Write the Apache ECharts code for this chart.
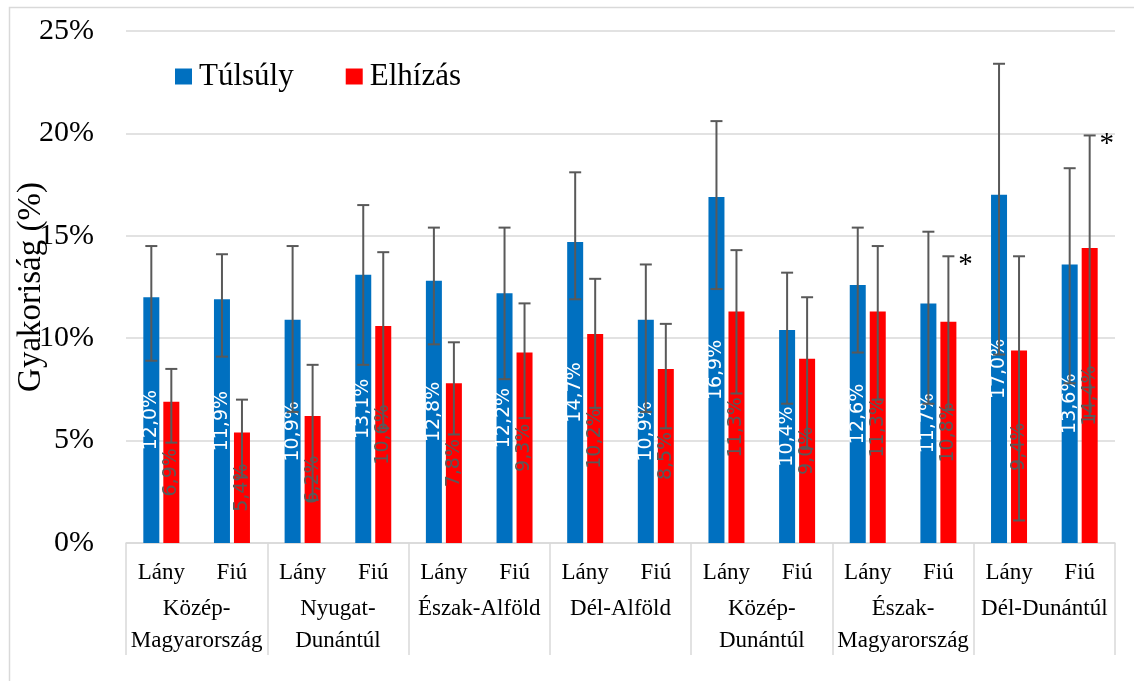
<!DOCTYPE html>
<html>
<head>
<meta charset="utf-8">
<script src="https://cdn.jsdelivr.net/npm/echarts@6/dist/echarts.min.js"></script>
<style>
html, body { margin: 0; padding: 0; background: #fff; }
#chart { width: 1134px; height: 681px; }
</style>
</head>
<body>
<div id="chart"></div>
<script>
// nem szerinti alkategóriák (14) és régiók (7)
var subCats = ['Lány', 'Fiú', 'Lány', 'Fiú', 'Lány', 'Fiú', 'Lány', 'Fiú', 'Lány', 'Fiú', 'Lány', 'Fiú', 'Lány', 'Fiú'];
var regions = ['Közép-\nMagyarország', 'Nyugat-\nDunántúl', 'Észak-Alföld', 'Dél-Alföld', 'Közép-\nDunántúl', 'Észak-\nMagyarország', 'Dél-Dunántúl'];

var tulsuly = [12.0, 11.9, 10.9, 13.1, 12.8, 12.2, 14.7, 10.9, 16.9, 10.4, 12.6, 11.7, 17.0, 13.6];
var tulsulyLow = [8.9, 9.1, 6.4, 8.7, 9.7, 8.0, 11.9, 6.4, 12.4, 6.8, 9.3, 6.8, 9.2, 7.8];
var tulsulyHigh = [14.5, 14.1, 14.5, 16.5, 15.4, 15.4, 18.1, 13.6, 20.6, 13.2, 15.4, 15.2, 23.4, 18.3];

var elhizas = [6.9, 5.4, 6.2, 10.6, 7.8, 9.3, 10.2, 8.5, 11.3, 9.0, 11.3, 10.8, 9.4, 14.4];
var elhizasLow = [4.9, 3.2, 2.1, 5.6, 5.3, 6.1, 6.6, 5.6, 7.3, 4.6, 7.0, 6.5, 1.1, 6.2];
var elhizasHigh = [8.5, 7.0, 8.7, 14.2, 9.8, 11.7, 12.9, 10.7, 14.3, 12.0, 14.5, 14.0, 14.0, 19.9];
var elhizasMarks = ['', '', '', '', '', '', '', '', '', '', '', '*', '', '*'];

var yTicks = [0, 5, 10, 15, 20, 25];

var serif = '"Liberation Serif", "Times New Roman", serif';

function pct(p) {
    return p.value.toFixed(1).replace('.', ',') + '%';
}

function errData(low, high) {
    var out = [];
    for (var i = 0; i < low.length; i++) {
        out.push([i, low[i], high[i]]);
    }
    return out;
}

function errorBars(offset, marks) {
    return function (params, api) {
        var i = api.value(0);
        var top = api.coord([i, api.value(2)]);
        var bot = api.coord([i, api.value(1)]);
        var x = top[0] + offset;
        var cap = 6;
        var kids = [
            { type: 'line', shape: { x1: x, y1: top[1], x2: x, y2: bot[1] }, style: { stroke: '#595959', lineWidth: 2 } },
            { type: 'line', shape: { x1: x - cap, y1: top[1], x2: x + cap, y2: top[1] }, style: { stroke: '#595959', lineWidth: 2 } },
            { type: 'line', shape: { x1: x - cap, y1: bot[1], x2: x + cap, y2: bot[1] }, style: { stroke: '#595959', lineWidth: 2 } }
        ];
        if (marks && marks[params.dataIndex]) {
            kids.push({
                type: 'text', x: x + 17, y: top[1] + 9,
                style: { text: marks[params.dataIndex], font: '29px ' + serif, fill: '#000', align: 'center', verticalAlign: 'middle' }
            });
        }
        return { type: 'group', children: kids };
    };
}

var myChart = echarts.init(document.getElementById('chart'));

var option = {
    animation: false,
    backgroundColor: '#fff',
    graphic: [{
        type: 'rect', left: 7, top: 5, silent: true,
        shape: { width: 1150, height: 700 },
        style: { fill: 'none', stroke: '#d9d9d9', lineWidth: 1.5 }
    }],
    legend: {
        left: 175, top: 61,
        padding: 0,
        icon: 'rect',
        itemWidth: 17, itemHeight: 16, itemGap: 52,
        textStyle: { fontFamily: serif, fontSize: 31, color: '#000', padding: [0, 0, 0, 2] },
        data: ['Túlsúly', 'Elhízás']
    },
    grid: { left: 126, right: 19, top: 31, bottom: 138, containLabel: false, outerBoundsMode: 'none' },
    xAxis: [
        {
            type: 'category',
            data: subCats,
            axisLine: { lineStyle: { color: '#d9d9d9', width: 1.5 } },
            axisTick: { show: false },
            axisLabel: { interval: 0, margin: 18, fontFamily: serif, fontSize: 23, color: '#000' }
        },
        {
            type: 'category',
            position: 'bottom',
            data: regions,
            axisLine: { show: false },
            axisTick: { show: true, length: 112, interval: 0, lineStyle: { color: '#d9d9d9', width: 1.5 } },
            axisLabel: { interval: 0, margin: 50, fontFamily: serif, fontSize: 23, lineHeight: 32, color: '#000' },
            splitLine: { show: false }
        }
    ],
    yAxis: {
        type: 'value',
        min: yTicks[0], max: yTicks[yTicks.length - 1], interval: 5,
        name: 'Gyakoriság (%)',
        nameLocation: 'middle',
        nameGap: 78,
        nameMoveOverlap: false,
        nameTextStyle: { fontFamily: serif, fontSize: 33, color: '#000' },
        axisLine: { show: false },
        axisTick: { show: false },
        axisLabel: { margin: 32, fontFamily: serif, fontSize: 30, color: '#000', formatter: '{value}%' },
        splitLine: { lineStyle: { color: '#d9d9d9', width: 1.5 } }
    },
    series: [
        {
            name: 'Túlsúly',
            type: 'bar',
            barWidth: 16,
            barGap: '25%',
            itemStyle: { color: '#0070C0' },
            label: {
                show: true, position: 'inside', rotate: 90,
                fontFamily: '"DejaVu Sans", sans-serif', fontSize: 19, color: '#fff',
                formatter: pct
            },
            data: tulsuly
        },
        {
            name: 'Elhízás',
            type: 'bar',
            barWidth: 16,
            itemStyle: { color: '#FF0000' },
            label: {
                show: true, position: 'inside', rotate: 90,
                fontFamily: '"DejaVu Sans", sans-serif', fontSize: 19, color: '#595959',
                formatter: pct
            },
            data: elhizas
        },
        {
            type: 'custom',
            name: 'Túlsúly CI',
            z: 5,
            renderItem: errorBars(-10, null),
            encode: { x: 0, y: [1, 2] },
            data: errData(tulsulyLow, tulsulyHigh)
        },
        {
            type: 'custom',
            name: 'Elhízás CI',
            z: 5,
            renderItem: errorBars(10, elhizasMarks),
            encode: { x: 0, y: [1, 2] },
            data: errData(elhizasLow, elhizasHigh)
        }
    ]
};

myChart.setOption(option);
</script>
</body>
</html>
